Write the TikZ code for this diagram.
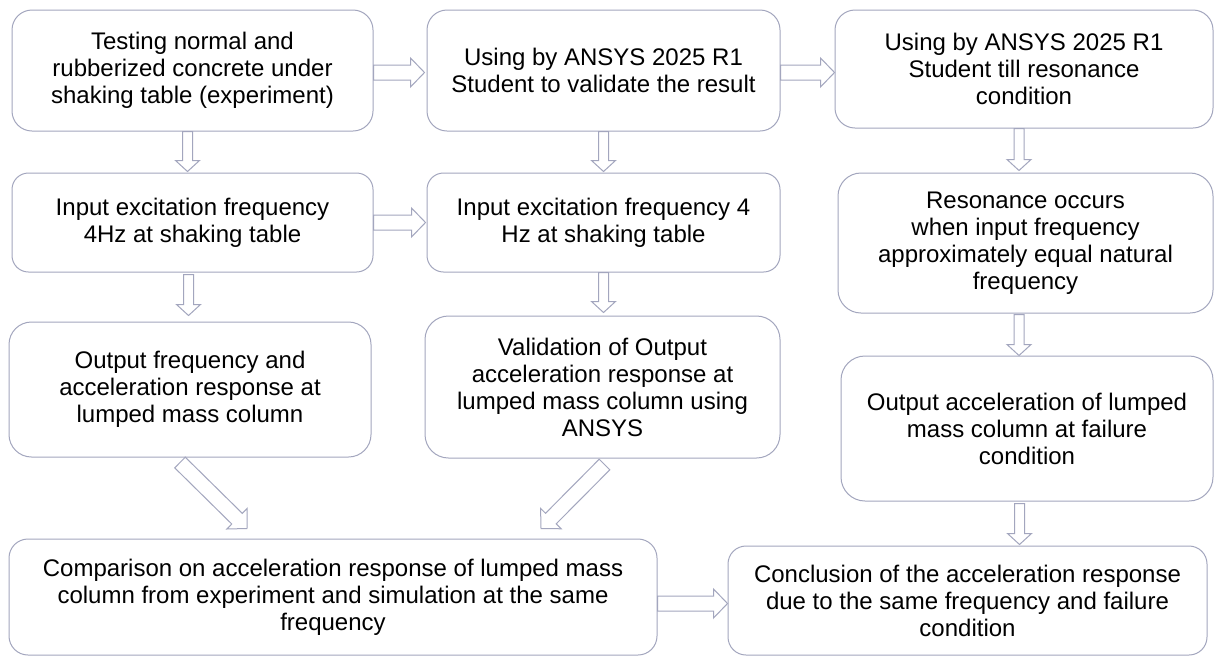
\documentclass[tikz,border=0pt]{standalone}
\usepackage{fontspec}
\setmainfont{Liberation Sans}
\usetikzlibrary{calc}
\definecolor{edgecol}{RGB}{163,166,190}
\tikzset{
  box/.style={draw=edgecol, line width=1pt, fill=white, align=center,
    inner sep=0pt, text=black, font=\fontsize{24}{27}\selectfont},
  blk/.style={draw=edgecol, line width=1pt, fill=white, line join=miter},
}
% hollow block arrow: #1 start, #2 tip, #3 half shaft, #4 half head, #5 head length
\newcommand\blockarrow[5]{%
  \path let \p1=($(#2)-(#1)$), \n1={atan2(\y1,\x1)}, \n2={veclen(\x1,\y1)} in
    \pgfextra{\xdef\baang{\n1}\xdef\balen{\n2}};
  \draw[blk, shift={(#1)}, rotate=\baang]
    (0,-#3) -- (\balen-#5,-#3) -- (\balen-#5,-#4) -- (\balen,0)
    -- (\balen-#5,#4) -- (\balen-#5,#3) -- (0,#3) -- cycle;
}
\newcommand\harrow[2]{\blockarrow{#1}{#2}{7.5}{14.5}{14}}
\newcommand\varrow[2]{\blockarrow{#1}{#2}{5}{12}{11}}
\begin{document}
\begin{tikzpicture}[x=1pt,y=1pt]
\useasboundingbox (0,0) rectangle (1214,-657);
\fill[white] (0,0) rectangle (1214,-657);

% first row
\node[box, minimum width=361, minimum height=121, rounded corners=20] (a) at (192.5,-70.5)
  {Testing normal and\\rubberized concrete under\\shaking table (experiment)};
\node[box, minimum width=353, minimum height=121, rounded corners=20] (b) at (603.5,-70.5)
  {Using by ANSYS 2025 R1\\Student to validate the result};
\node[box, minimum width=378, minimum height=118, rounded corners=20] (c) at (1024,-69)
  {Using by ANSYS 2025 R1\\Student till resonance\\condition};

% second row
\node[box, minimum width=361, minimum height=99, rounded corners=16.5] (d) at (192.5,-222.5)
  {Input excitation frequency\\4Hz at shaking table};
\node[box, minimum width=353, minimum height=99, rounded corners=16.5] (e) at (603.5,-222.5)
  {Input excitation frequency 4\\Hz at shaking table};
\node[box, minimum width=375, minimum height=140, rounded corners=23] (f) at (1025.5,-243)
  {Resonance occurs\\when input frequency\\approximately equal natural\\frequency};

% third row
\node[box, minimum width=362, minimum height=135, rounded corners=22.5] (g) at (190,-389.5)
  {Output frequency and\\acceleration response at\\lumped mass column};
\node[box, minimum width=355, minimum height=142, rounded corners=23.5] (h) at (602.5,-387)
  {Validation of Output\\acceleration response at\\lumped mass column using\\ANSYS};
\node[box, minimum width=372, minimum height=145, rounded corners=24] (i) at (1027,-428.5)
  {Output acceleration of lumped\\mass column at failure\\condition};

% last row
\node[box, minimum width=648, minimum height=116, rounded corners=19] (j) at (333,-597)
  {Comparison on acceleration response of lumped mass\\column from experiment and simulation at the same\\frequency};
\node[box, minimum width=479, minimum height=109, rounded corners=18] (k) at (967.5,-600.5)
  {Conclusion of the acceleration response\\due to the same frequency and failure\\condition};

% horizontal block arrows
\harrow{$(a.east)+(0,-2)$}{$(b.west)+(-2,-2)$}
\harrow{$(b.east)+(0,-2)$}{$(c.west|-b.east)+(0,-2)$}
\harrow{d.east}{$(e.west)+(-1,0)$}
\harrow{$(j.east|-k.west)+(0,-3)$}{$(k.west)+(0,-3)$}

% vertical block arrows
\varrow{$(a.south)+(-5,0)$}{$(a.south|-d.north)+(-5,1)$}
\varrow{b.south}{$(e.north)+(0,1)$}
\varrow{$(c.south)+(-5,0)$}{$(c.south|-f.north)+(-5,2)$}
\varrow{$(d.south)+(-4,-2)$}{$(d.south|-g.north)+(-4,6)$}
\varrow{e.south}{$(e.south|-h.north)+(0,3)$}
\varrow{$(f.south)+(-6.5,-1)$}{$(f.south|-i.north)+(-6.5,0)$}
\varrow{$(i.south)+(-7.5,-2)$}{$(i.south|-k.north)+(-7.5,1)$}

% diagonal block arrows into the comparison box
\harrow{$(g.south)+(-10,-5)$}{$(j.north)+(-86,10)$}
\harrow{$(h.south)+(2,-6)$}{$(j.north)+(208,10)$}
\end{tikzpicture}
\end{document}
